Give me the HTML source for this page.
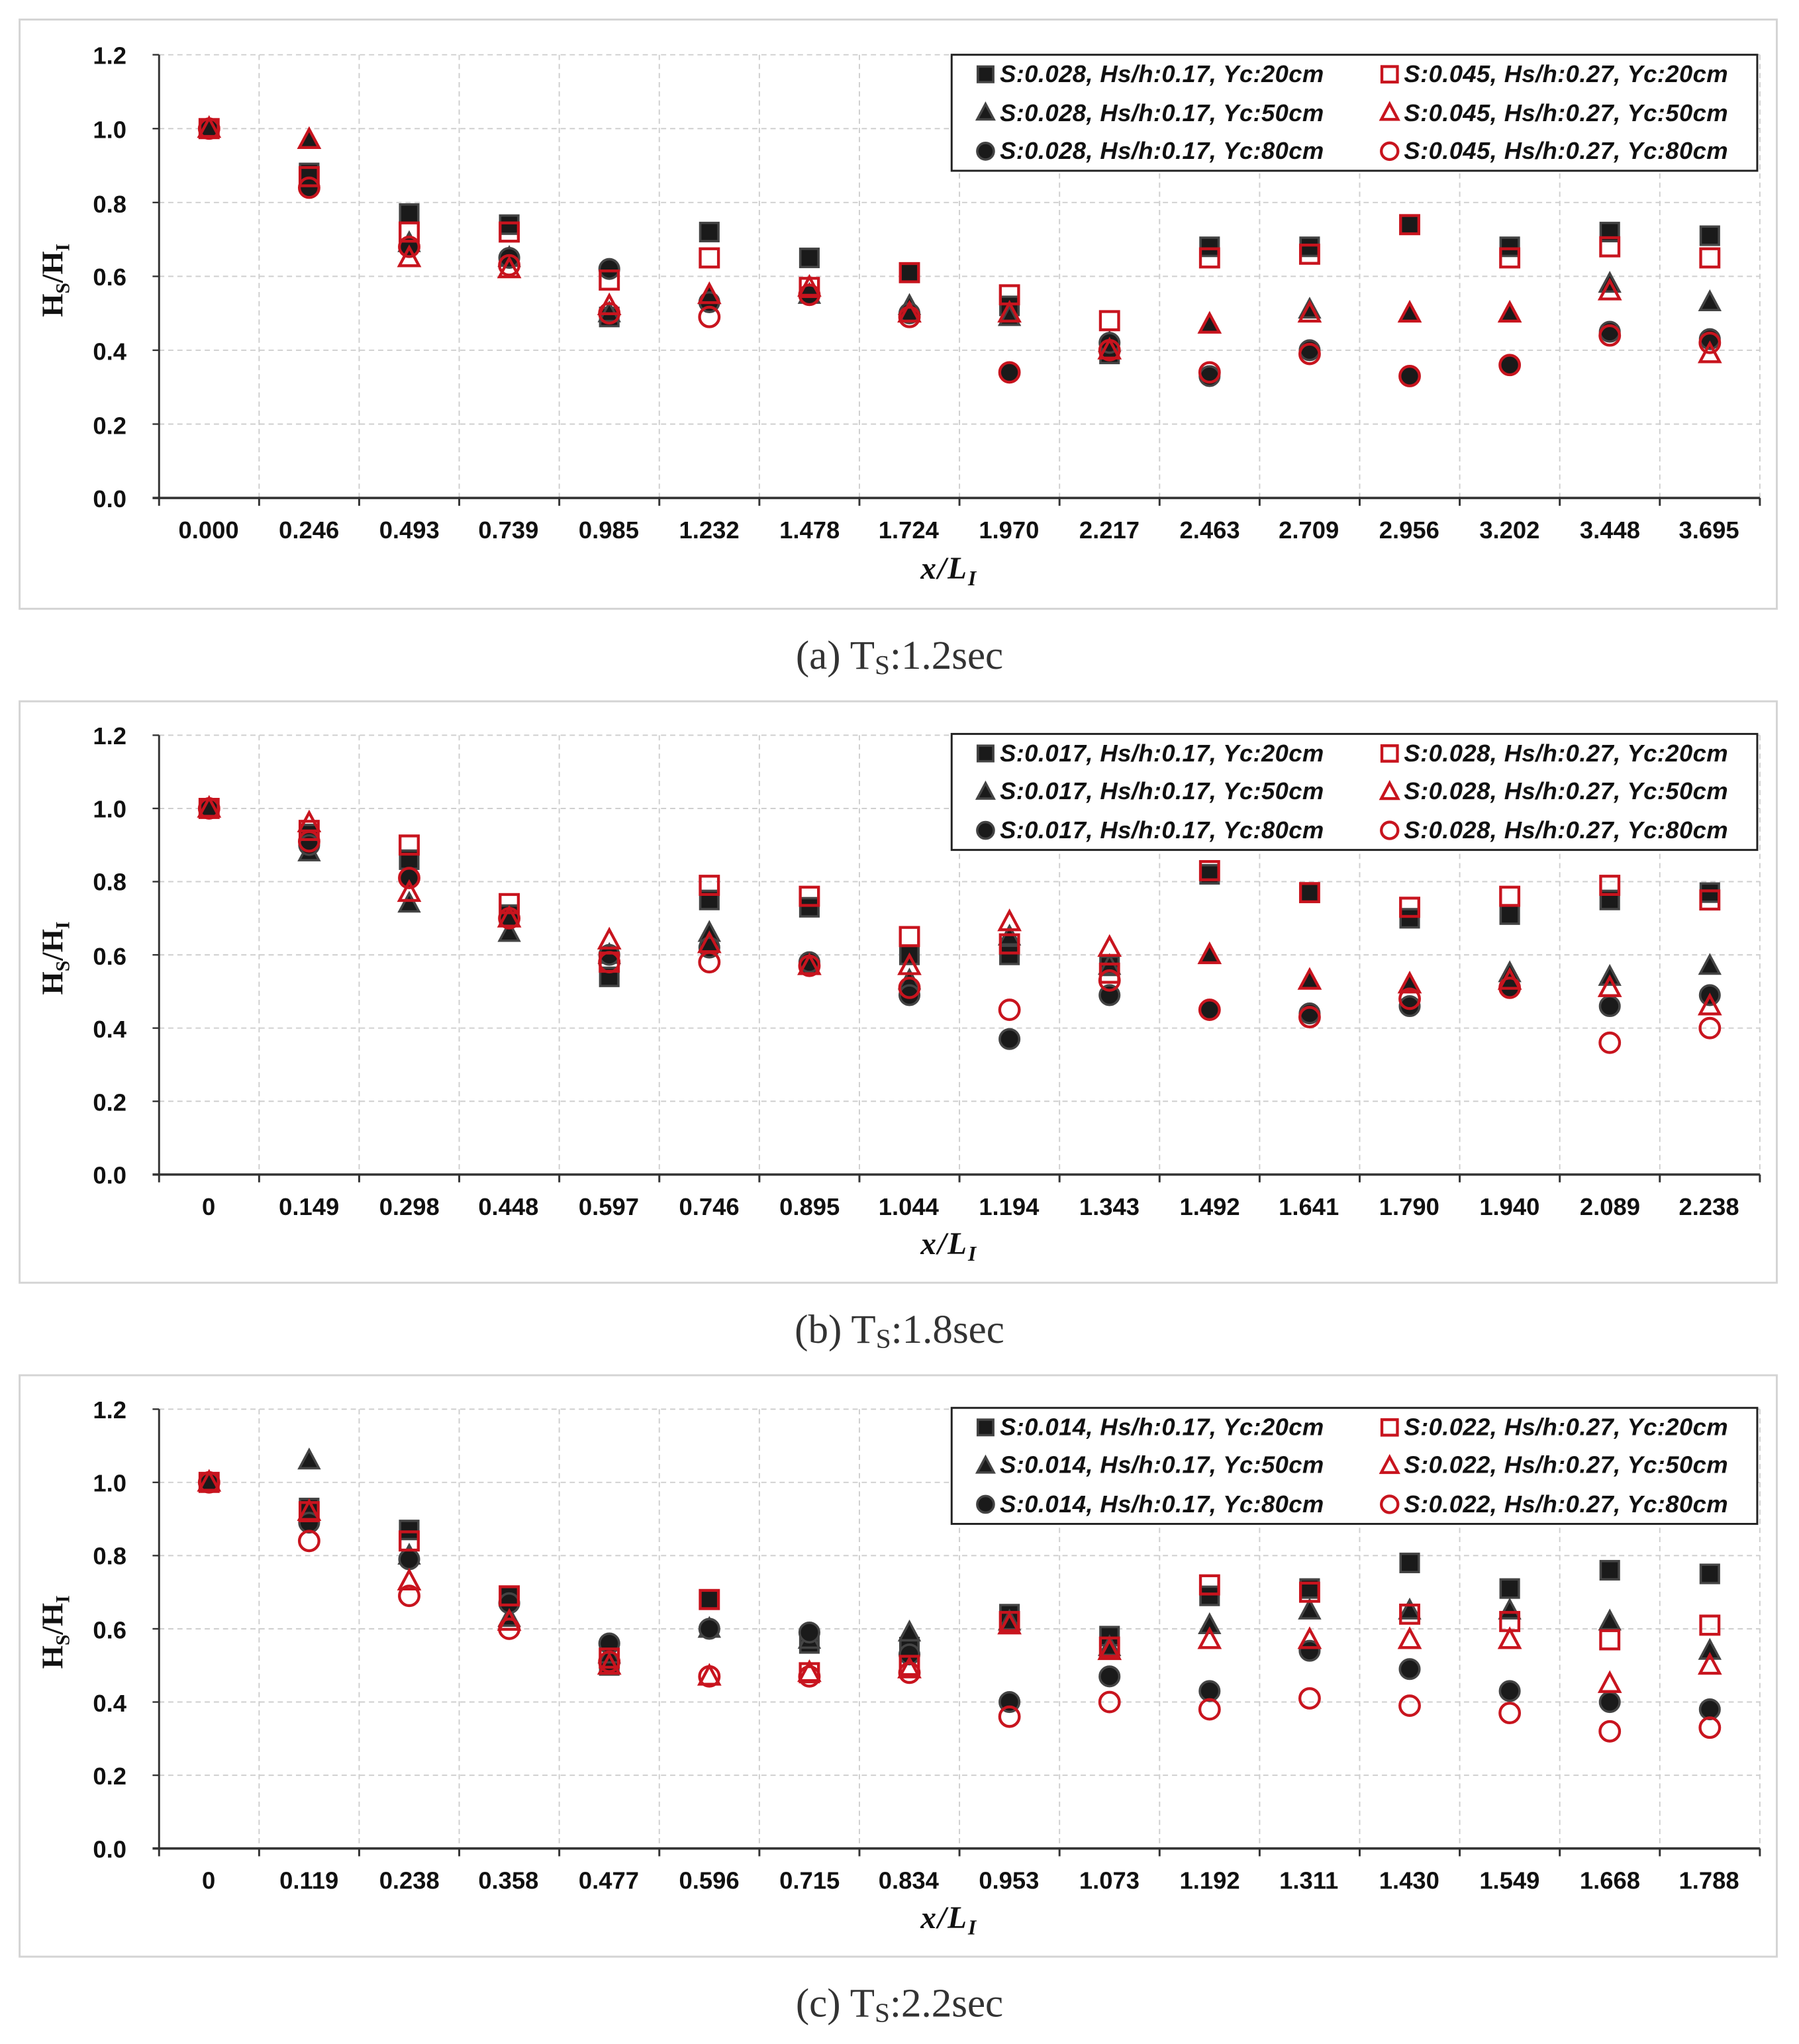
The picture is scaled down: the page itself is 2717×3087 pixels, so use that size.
<!DOCTYPE html>
<html><head><meta charset="utf-8"><style>
html,body{margin:0;padding:0;background:#fff}
svg{display:block}
.tk{font-family:"Liberation Sans",sans-serif;font-weight:bold;font-size:18.5px;fill:#111}
.lg{font-family:"Liberation Sans",sans-serif;font-weight:bold;font-style:italic;font-size:18.5px;fill:#111;letter-spacing:0.2px}
.ax{font-family:"Liberation Serif",serif;font-weight:bold;font-style:italic;font-size:24px;fill:#111;letter-spacing:1px}
.yl{font-family:"Liberation Serif",serif;font-weight:bold;font-size:23px;fill:#111}
.cap{font-family:"Liberation Serif","Noto Serif CJK SC",serif;font-size:31px;fill:#333}
</style></head><body>
<svg id="s" width="2717" height="3087" viewBox="0 0 1380 1568" xmlns="http://www.w3.org/2000/svg">
<rect width="1380" height="1568" fill="#fff"/>
<g id="g"></g>
<!-- Panel a -->
<g class="tk" text-anchor="end"><text x="97" y="49">1.2</text><text x="97" y="106">1.0</text><text x="97" y="163">0.8</text><text x="97" y="219">0.6</text><text x="97" y="276">0.4</text><text x="97" y="333">0.2</text><text x="97" y="389">0.0</text></g>
<g class="tk" text-anchor="middle"><text x="160" y="413">0.000</text><text x="237" y="413">0.246</text><text x="314" y="413">0.493</text><text x="390" y="413">0.739</text><text x="467" y="413">0.985</text><text x="544" y="413">1.232</text><text x="621" y="413">1.478</text><text x="697" y="413">1.724</text><text x="774" y="413">1.970</text><text x="851" y="413">2.217</text><text x="928" y="413">2.463</text><text x="1004" y="413">2.709</text><text x="1081" y="413">2.956</text><text x="1158" y="413">3.202</text><text x="1235" y="413">3.448</text><text x="1311" y="413">3.695</text></g>
<text class="ax" x="728" y="444" text-anchor="middle">x/L<tspan font-size="16" dy="5">I</tspan></text>
<text class="yl" transform="translate(48,215) rotate(-90)" text-anchor="middle">H<tspan font-size="15" dy="5">S</tspan><tspan dy="-5">/H</tspan><tspan font-size="15" dy="5">I</tspan></text>
<text class="cap" x="690" y="513" text-anchor="middle">(a)  T<tspan font-size="21" dy="4">S</tspan><tspan dy="-4">:1.2sec</tspan></text>
<g class="lg"><text x="767" y="63">S:0.028, Hs/h:0.17, Yc:20cm</text><text x="767" y="93">S:0.028, Hs/h:0.17, Yc:50cm</text><text x="767" y="122">S:0.028, Hs/h:0.17, Yc:80cm</text><text x="1077" y="63">S:0.045, Hs/h:0.27, Yc:20cm</text><text x="1077" y="93">S:0.045, Hs/h:0.27, Yc:50cm</text><text x="1077" y="122">S:0.045, Hs/h:0.27, Yc:80cm</text></g>
<!-- Panel b -->
<g class="tk" text-anchor="end"><text x="97" y="571">1.2</text><text x="97" y="627">1.0</text><text x="97" y="683">0.8</text><text x="97" y="740">0.6</text><text x="97" y="796">0.4</text><text x="97" y="852">0.2</text><text x="97" y="908">0.0</text></g>
<g class="tk" text-anchor="middle"><text x="160" y="932">0</text><text x="237" y="932">0.149</text><text x="314" y="932">0.298</text><text x="390" y="932">0.448</text><text x="467" y="932">0.597</text><text x="544" y="932">0.746</text><text x="621" y="932">0.895</text><text x="697" y="932">1.044</text><text x="774" y="932">1.194</text><text x="851" y="932">1.343</text><text x="928" y="932">1.492</text><text x="1004" y="932">1.641</text><text x="1081" y="932">1.790</text><text x="1158" y="932">1.940</text><text x="1235" y="932">2.089</text><text x="1311" y="932">2.238</text></g>
<text class="ax" x="728" y="962" text-anchor="middle">x/L<tspan font-size="16" dy="5">I</tspan></text>
<text class="yl" transform="translate(48,735) rotate(-90)" text-anchor="middle">H<tspan font-size="15" dy="5">S</tspan><tspan dy="-5">/H</tspan><tspan font-size="15" dy="5">I</tspan></text>
<text class="cap" x="690" y="1030" text-anchor="middle">(b)  T<tspan font-size="21" dy="4">S</tspan><tspan dy="-4">:1.8sec</tspan></text>
<g class="lg"><text x="767" y="584">S:0.017, Hs/h:0.17, Yc:20cm</text><text x="767" y="613">S:0.017, Hs/h:0.17, Yc:50cm</text><text x="767" y="643">S:0.017, Hs/h:0.17, Yc:80cm</text><text x="1077" y="584">S:0.028, Hs/h:0.27, Yc:20cm</text><text x="1077" y="613">S:0.028, Hs/h:0.27, Yc:50cm</text><text x="1077" y="643">S:0.028, Hs/h:0.27, Yc:80cm</text></g>
<!-- Panel c -->
<g class="tk" text-anchor="end"><text x="97" y="1088">1.2</text><text x="97" y="1144">1.0</text><text x="97" y="1200">0.8</text><text x="97" y="1257">0.6</text><text x="97" y="1313">0.4</text><text x="97" y="1369">0.2</text><text x="97" y="1425">0.0</text></g>
<g class="tk" text-anchor="middle"><text x="160" y="1449">0</text><text x="237" y="1449">0.119</text><text x="314" y="1449">0.238</text><text x="390" y="1449">0.358</text><text x="467" y="1449">0.477</text><text x="544" y="1449">0.596</text><text x="621" y="1449">0.715</text><text x="697" y="1449">0.834</text><text x="774" y="1449">0.953</text><text x="851" y="1449">1.073</text><text x="928" y="1449">1.192</text><text x="1004" y="1449">1.311</text><text x="1081" y="1449">1.430</text><text x="1158" y="1449">1.549</text><text x="1235" y="1449">1.668</text><text x="1311" y="1449">1.788</text></g>
<text class="ax" x="728" y="1479" text-anchor="middle">x/L<tspan font-size="16" dy="5">I</tspan></text>
<text class="yl" transform="translate(48,1252) rotate(-90)" text-anchor="middle">H<tspan font-size="15" dy="5">S</tspan><tspan dy="-5">/H</tspan><tspan font-size="15" dy="5">I</tspan></text>
<text class="cap" x="690" y="1547" text-anchor="middle">(c)  T<tspan font-size="21" dy="4">S</tspan><tspan dy="-4">:2.2sec</tspan></text>
<g class="lg"><text x="767" y="1101">S:0.014, Hs/h:0.17, Yc:20cm</text><text x="767" y="1130">S:0.014, Hs/h:0.17, Yc:50cm</text><text x="767" y="1160">S:0.014, Hs/h:0.17, Yc:80cm</text><text x="1077" y="1101">S:0.022, Hs/h:0.27, Yc:20cm</text><text x="1077" y="1130">S:0.022, Hs/h:0.27, Yc:50cm</text><text x="1077" y="1160">S:0.022, Hs/h:0.27, Yc:80cm</text></g>
<g id="m"></g>
</svg>
<script>
var NS="http://www.w3.org/2000/svg";
var G=document.getElementById("g"),M=document.getElementById("m");
function el(p,t,a){var e=document.createElementNS(NS,t);for(var k in a)e.setAttribute(k,a[k]);p.appendChild(e);return e;}
var X0=122,X1=1350,W=(X1-X0)/16;
var panels=[
{top:15,bot:467,y12:42,y0:382,ly:42,
d:[[1,1,1,1,1,1],[.88,.97,.84,.87,.97,.84],[.77,.69,.68,.72,.65,.68],[.74,.65,.65,.72,.62,.63],[.49,.50,.62,.59,.52,.50],[.72,.55,.53,.65,.55,.49],[.65,.55,.55,.57,.57,.55],[.61,.52,.50,.61,.50,.49],[.52,.49,.34,.55,.50,.34],[.39,.42,.42,.48,.40,.40],[.68,.47,.33,.65,.47,.34],[.68,.51,.40,.66,.50,.39],[.74,.50,.33,.74,.50,.33],[.68,.50,.36,.65,.50,.36],[.72,.58,.45,.68,.56,.44],[.71,.53,.43,.65,.39,.42]]},
{top:538,bot:984,y12:564,y0:901,ly:563,
d:[[1,1,1,1,1,1],[.93,.88,.90,.94,.96,.91],[.86,.74,.81,.90,.77,.81],[.71,.66,.70,.74,.70,.70],[.54,.60,.60,.58,.64,.58],[.75,.66,.62,.79,.63,.58],[.73,.57,.58,.76,.57,.57],[.60,.53,.49,.65,.57,.51],[.60,.65,.37,.63,.69,.45],[.57,.57,.49,.55,.62,.53],[.82,.60,.45,.83,.60,.45],[.77,.53,.44,.77,.53,.43],[.70,.52,.46,.73,.52,.48],[.71,.55,.51,.76,.53,.51],[.75,.54,.46,.79,.51,.36],[.77,.57,.49,.75,.46,.40]]},
{top:1055,bot:1501,y12:1081,y0:1418,ly:1080,
d:[[1,1,1,1,1,1],[.93,1.06,.89,.92,.92,.84],[.87,.80,.79,.84,.73,.69],[.69,.63,.67,.69,.62,.60],[.50,.53,.56,.52,.50,.51],[.68,.60,.60,.68,.47,.47],[.56,.57,.59,.48,.48,.47],[.55,.59,.53,.50,.49,.48],[.64,.62,.40,.62,.61,.36],[.58,.55,.47,.55,.54,.40],[.69,.61,.43,.72,.57,.38],[.71,.65,.54,.70,.57,.41],[.78,.65,.49,.64,.57,.39],[.71,.65,.43,.62,.57,.37],[.76,.62,.40,.57,.45,.32],[.75,.54,.38,.61,.50,.33]]}];
function mk(p,type,x,y,red,s){
 s=s||1;
 var a=red?{fill:"none",stroke:"#c8141e","stroke-width":2.2}:{fill:"#1a1a1a",stroke:"#444","stroke-width":1.8};
 if(type==0){var h=7*s;a.x=x-h;a.y=y-h;a.width=2*h;a.height=2*h;el(p,"rect",a);}
 else if(type==1){a.points=(x)+","+(y-8*s)+" "+(x+7.5*s)+","+(y+6*s)+" "+(x-7.5*s)+","+(y+6*s);el(p,"polygon",a);}
 else{a.cx=x;a.cy=y;a.r=7.5*s;el(p,"circle",a);}
}
panels.forEach(function(P){
 el(G,"rect",{x:15,y:P.top,width:1348,height:P.bot-P.top,fill:"none",stroke:"#d4d4d4","stroke-width":1.5});
 var h=(P.y0-P.y12)/6;
 for(var k=1;k<=6;k++){var y=P.y0-k*h;el(G,"line",{x1:X0,x2:X1,y1:y,y2:y,stroke:"#cfcfcf","stroke-dasharray":"4,3","stroke-width":1});
  el(G,"line",{x1:X0-5,x2:X0,y1:y,y2:y,stroke:"#333","stroke-width":1.2});}
 for(var i=1;i<=16;i++){var x=X0+i*W;el(G,"line",{x1:x,x2:x,y1:P.y12,y2:P.y0,stroke:"#cfcfcf","stroke-dasharray":"4,3","stroke-width":1});
  el(G,"line",{x1:x,x2:x,y1:P.y0,y2:P.y0+6,stroke:"#333","stroke-width":1.5});}
 el(G,"line",{x1:X0,x2:X0,y1:P.y12,y2:P.y0,stroke:"#333","stroke-width":1.5});
 el(G,"line",{x1:X0-5,x2:X1,y1:P.y0,y2:P.y0,stroke:"#333","stroke-width":1.8});
 el(G,"line",{x1:X0,x2:X0,y1:P.y0,y2:P.y0+6,stroke:"#333","stroke-width":1.5});
 el(G,"rect",{x:730,y:P.ly,width:618,height:89,fill:"#fff",stroke:"#222","stroke-width":1.5});
 for(var r=0;r<3;r++){var yy=P.ly+15+r*29.5;mk(M,r,756,yy,false,0.85);mk(M,r,1066,yy,true,0.85);}
 P.d.forEach(function(v,i){var x=X0+W*(i+0.5);
  for(var s=0;s<3;s++)mk(M,s,x,P.y0-v[s]/1.2*(P.y0-P.y12),false);
  for(var s=3;s<6;s++)mk(M,s-3,x,P.y0-v[s]/1.2*(P.y0-P.y12),true);});
});
</script>
</body></html>
